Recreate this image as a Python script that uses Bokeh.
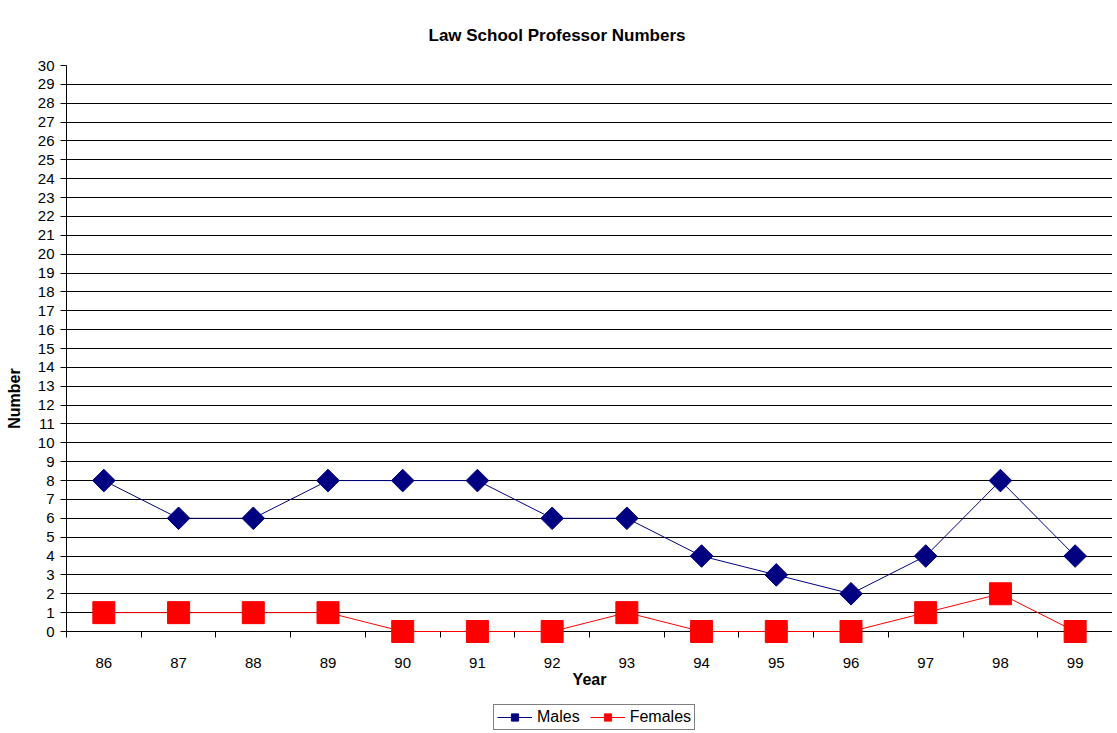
import math
from bokeh.plotting import figure
from bokeh.models import FixedTicker, Range1d, Legend, LegendItem
from bokeh.embed import file_html
from bokeh.resources import INLINE

years = ["86", "87", "88", "89", "90", "91", "92", "93", "94", "95", "96", "97", "98", "99"]
males = [8, 6, 6, 8, 8, 8, 6, 6, 4, 3, 2, 4, 8, 4]
females = [1, 1, 1, 1, 0, 0, 0, 1, 0, 0, 0, 1, 2, 0]
y_ticks = list(range(0, 31))
title_text = "Law School Professor Numbers"

FONT = "Liberation Sans"
NAVY = "#000080"
RED = "#FF0000"

x = list(range(len(years)))

# the frame reaches down to the legend so that nothing is clipped
FW, FH = 1046, 666
p = figure(frame_width=FW, frame_height=FH, output_backend="svg", toolbar_location=None,
           x_range=Range1d(-0.5, len(years) - 0.5), y_range=Range1d(-5.3, 30),
           min_border_left=66, min_border_right=0, min_border_top=65, min_border_bottom=2)
p.outline_line_color = None
p.background_fill_color = "white"
p.border_fill_color = "white"

p.title.text = title_text
p.title.align = "left"
p.title.offset = 362
p.title.standoff = 41
p.title.text_font = FONT
p.title.text_font_size = "17px"
p.title.text_font_style = "bold"
p.title.text_color = "black"

# Y axis
ya = p.yaxis[0]
ya.ticker = FixedTicker(ticks=y_ticks)
ya.bounds = (0, 30)
ya.axis_label = "Number"
ya.axis_label_text_font = FONT
ya.axis_label_text_font_size = "16px"
ya.axis_label_text_font_style = "bold"
ya.axis_label_text_color = "black"
ya.axis_label_standoff = 12
ya.major_label_text_font = FONT
ya.major_label_text_font_size = "15px"
ya.major_label_text_color = "black"
ya.major_label_standoff = 6
ya.major_tick_out = 6
ya.major_tick_in = 0
ya.major_tick_line_color = "black"
ya.minor_tick_line_color = None
ya.axis_line_color = "black"

# X axis: its line is the y=0 grid line; ticks and labels are drawn up at y=0
xa = p.xaxis[0]
xa.ticker = FixedTicker(ticks=x, minor_ticks=[i - 0.5 for i in range(len(years) + 1)])
xa.major_label_overrides = {i: years[i] for i in x}
xa.major_tick_line_color = None
xa.major_tick_out = 0
xa.major_tick_in = 0
xa.minor_tick_in = 100
xa.minor_tick_out = -94
xa.minor_tick_line_color = "black"
xa.major_label_standoff = -74
xa.major_label_text_font = FONT
xa.major_label_text_font_size = "15px"
xa.major_label_text_color = "black"
xa.axis_label = "Year"
xa.axis_label_text_font = FONT
xa.axis_label_text_font_size = "16px"
xa.axis_label_text_font_style = "bold"
xa.axis_label_text_color = "black"
xa.axis_label_standoff = 0
xa.axis_line_color = None

p.xgrid.visible = False
p.ygrid.grid_line_color = "black"
p.ygrid.grid_line_width = 1

lm = p.line(x, males, line_color=NAVY, line_width=1)
sm = p.scatter(x, males, marker="square", angle=math.pi / 4, size=16,
               fill_color=NAVY, line_color=NAVY)
lf = p.line(x, females, line_color=RED, line_width=1)
sf = p.scatter(x, females, marker="square", size=22, fill_color=RED, line_color=RED)

legend = Legend(items=[LegendItem(label="Males", renderers=[lm, sm]),
                       LegendItem(label="Females", renderers=[lf, sf])],
                orientation="horizontal", location=(427, 1),
                border_line_color="black", border_line_width=1,
                background_fill_color="white", background_fill_alpha=1,
                label_text_font=FONT, label_text_font_size="16px", label_text_color="black",
                glyph_width=35, glyph_height=18, padding=3, spacing=10, margin=0,
                label_standoff=5)
p.add_layout(legend, "center")

open("out.html", "w").write(file_html(p, INLINE))
